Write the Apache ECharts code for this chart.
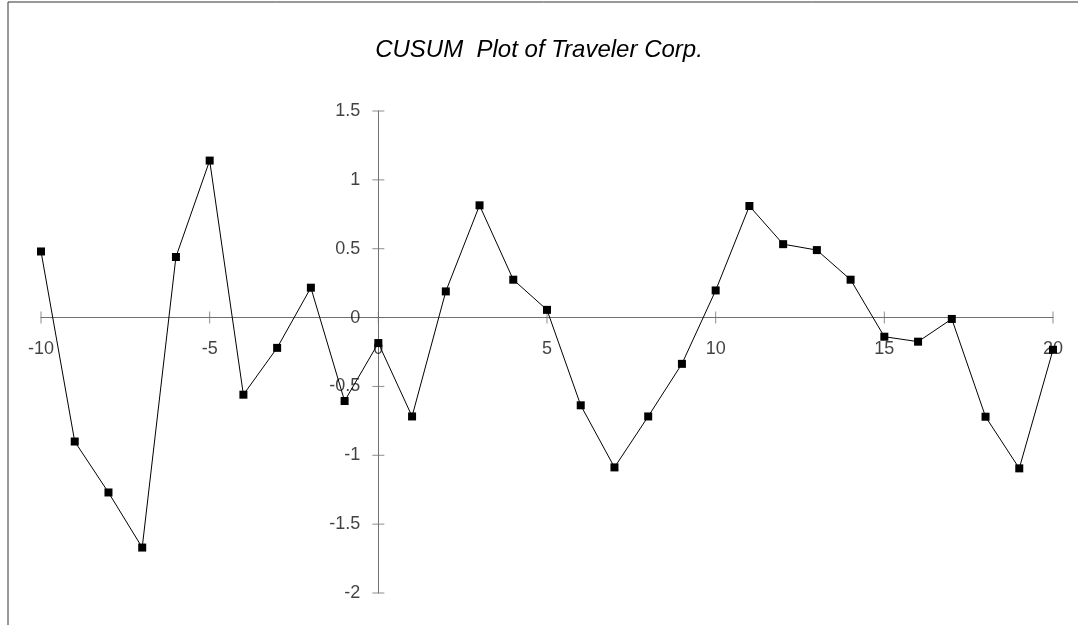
<!DOCTYPE html>
<html>
<head>
<meta charset="utf-8">
<script src="https://cdn.jsdelivr.net/npm/echarts@6/dist/echarts.min.js"></script>
<style>
  html, body { margin: 0; padding: 0; background: #fff; }
  #chart1 { width: 1078px; height: 625px; }
</style>
</head>
<body>
<div id="chart1"></div>
<script>
// data
var periods = [-10, -9, -8, -7, -6, -5, -4, -3, -2, -1, 0, 1, 2, 3, 4, 5, 6, 7, 8, 9, 10, 11, 12, 13, 14, 15, 16, 17, 18, 19, 20]
var cusum = [0.48, -0.90, -1.27, -1.67, 0.44, 1.14, -0.56, -0.22, 0.217, -0.606, -0.185, -0.718, 0.19, 0.815, 0.275, 0.056, -0.637, -1.088, -0.718, -0.336, 0.197, 0.81, 0.533, 0.49, 0.275, -0.139, -0.175, -0.01, -0.72, -1.095, -0.234]
var xTickValues = [-10, -5, 0, 5, 10, 15, 20]
var yTickValues = [-2, -1.5, -1, -0.5, 0, 0.5, 1, 1.5]

var myChart1 = echarts.init(document.getElementById('chart1'))

var axisColor = '#707070'
var labelFont = {
    color: '#111',
    fontSize: 18,
    fontFamily: 'Liberation Sans, Arial, sans-serif'
}

var option = {
    animation: false,
    backgroundColor: '#fff',
    title: {
        text: 'CUSUM  Plot of Traveler Corp.',
        left: 'center',
        top: 33,
        textStyle: {
            fontFamily: 'Liberation Sans, Arial, sans-serif',
            fontStyle: 'italic',
            fontWeight: 'normal',
            fontSize: 24,
            color: '#000'
        }
    },
    graphic: [{
        type: 'rect',
        shape: { x: 8, y: 2, width: 1200, height: 800 },
        style: { fill: 'none', stroke: '#333', lineWidth: 1 },
        silent: true
    }],
    grid: {
        left: 41,
        right: 25,
        top: 111,
        bottom: 32,
        containLabel: false,
        outerBoundsMode: 'none'
    },
    xAxis: {
        type: 'value',
        min: xTickValues[0],
        max: xTickValues[xTickValues.length - 1],
        interval: 5,
        splitLine: { show: false },
        axisLine: { show: true, onZero: true, lineStyle: { color: axisColor, width: 1 } },
        axisTick: { show: false },
        axisLabel: { show: false }
    },
    yAxis: {
        type: 'value',
        min: yTickValues[0],
        max: yTickValues[yTickValues.length - 1],
        interval: 0.5,
        splitLine: { show: false },
        axisLine: { show: true, onZero: true, lineStyle: { color: axisColor, width: 1 } },
        axisTick: { show: false },
        axisLabel: { show: false }
    },
    series: [
        {
            // crossing ticks and labels on the x axis
            type: 'scatter',
            data: xTickValues.map(function (v) { return [v, 0] }),
            symbol: 'rect',
            symbolSize: [1, 12],
            itemStyle: { color: axisColor },
            label: Object.assign({
                show: true,
                position: 'bottom',
                distance: 16,
                formatter: function (p) { return String(p.value[0]) }
            }, labelFont),
            silent: true,
            z: 1
        },
        {
            // crossing ticks and labels on the y axis
            type: 'scatter',
            data: yTickValues.map(function (v) { return [0, v] }),
            symbol: 'rect',
            symbolSize: [12, 1],
            itemStyle: { color: axisColor },
            label: Object.assign({
                show: true,
                position: 'left',
                distance: 12,
                formatter: function (p) { return String(p.value[1]) }
            }, labelFont),
            silent: true,
            z: 1
        },
        {
            type: 'line',
            data: periods.map(function (p, i) { return [p, cusum[i]] }),
            symbol: 'rect',
            symbolSize: 8,
            itemStyle: { color: '#000' },
            lineStyle: { color: '#000', width: 1 },
            clip: false,
            z: 3
        }
    ]
}
myChart1.setOption(option)
window.addEventListener('resize', function () {
    myChart1.resize()
})
</script>
</body>
</html>
